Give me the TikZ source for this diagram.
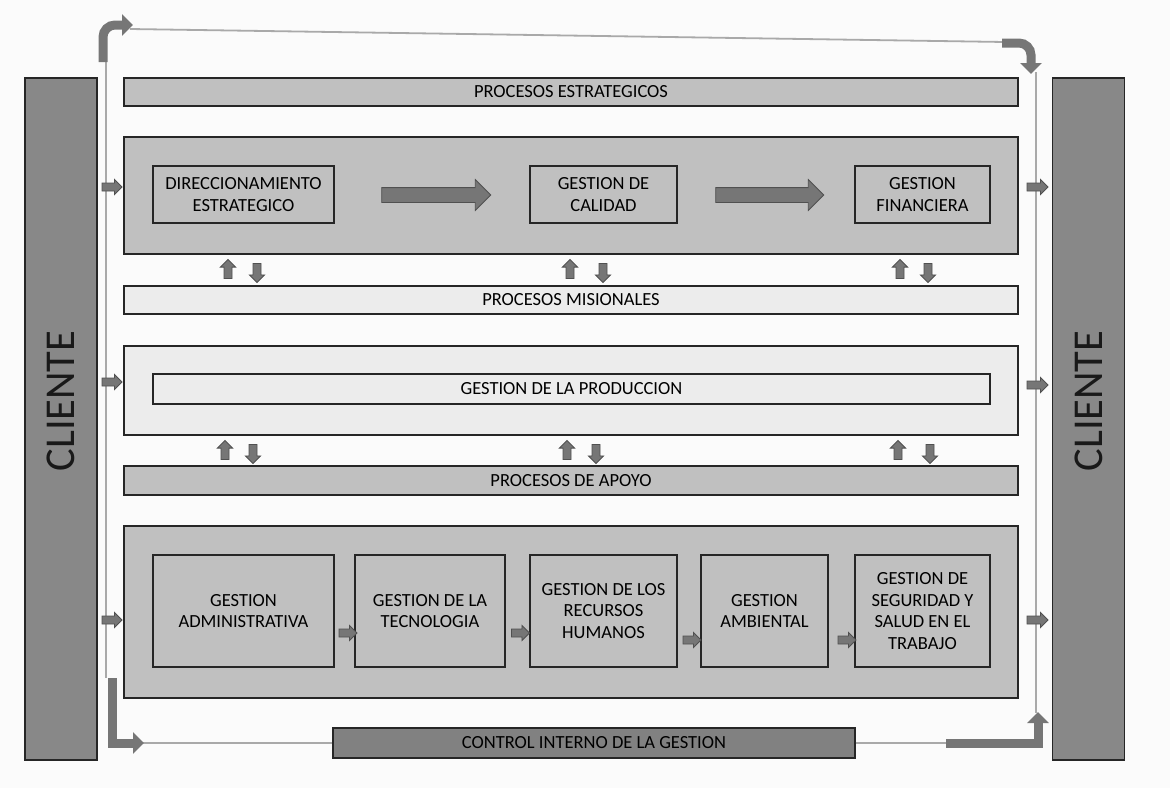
\documentclass[tikz,border=0pt]{standalone}
\usepackage{fontspec}
\setmainfont{Carlito}
\usetikzlibrary{shapes.arrows,arrows.meta}
\definecolor{bgc}{HTML}{FBFBFB}
\definecolor{gmid}{HTML}{C0C0C0}
\definecolor{glight}{HTML}{ECECEC}
\definecolor{gdark}{HTML}{888888}
\definecolor{garrow}{HTML}{767676}
\definecolor{garrowb}{HTML}{505050}
\definecolor{gline}{HTML}{A9A9A9}
\newcommand\lblfont{\fontsize{18.5}{21.5}\selectfont}
\newcommand\clfont{\fontsize{42.5}{44}\selectfont}
\begin{document}
\begin{tikzpicture}[x=1pt,y=-1pt,
  boxbase/.style={draw=black!85, line width=1.4pt, inner sep=0pt, align=center, font=\lblfont, text=black},
  midbox/.style={boxbase, fill=gmid},
  lightbox/.style={boxbase, fill=glight},
  clientbox/.style={boxbase, fill=gdark, minimum width=72, minimum height=682},
  clienttext/.style={rotate=90, font=\clfont, text=black!90, inner sep=0pt},
  ctrlbox/.style={boxbase, fill=gdark!95!black},
  arrowbase/.style={single arrow, draw=garrowb, fill=garrow, line width=0.8pt, inner xsep=0pt, font=\tiny},
  bigarrow/.style={arrowbase, inner ysep=7pt, single arrow head extend=8pt},
  smallarrow/.style={arrowbase, minimum height=19, inner ysep=3.6pt, single arrow head extend=3.6pt},
  uparrow/.style={smallarrow, rotate=90},
  downarrow/.style={smallarrow, rotate=-90},
  thinline/.style={draw=gline, line width=1.8pt},
  thickarrow/.style={draw=garrow, line width=9pt, -{Triangle[width=21pt,length=11pt]}}
]
\useasboundingbox (0,0) rectangle (1170,788);
\fill[bgc] (0,0) rectangle (1170,788);

% clients
\node[clientbox] (clL) at (61,419) {};
\node[clienttext] (clLt) at (61,401) {CLIENTE};
\node[clientbox] (clR) at (1088.5,419) {};
\node[clienttext] (clRt) at (1088.5,401) {CLIENTE};

% thin loop lines
\coordinate (tlA) at (106,55);
\coordinate (tlB) at (106,678);
\coordinate (ttA) at (130,29);
\coordinate (ttB) at (1005,42);
\coordinate (trA) at (1036,72);
\coordinate (trB) at (1036,713);
\coordinate (blA) at (142,743);
\coordinate (brA) at (947,743);
\draw[thinline] (tlA) -- (tlB);
\draw[thinline] (ttA) -- (ttB);
\draw[thinline] (trA) -- (trB);

% bars
\node[midbox, minimum width=894, minimum height=28] (pest) at (571,92) {PROCESOS ESTRATEGICOS};
\node[lightbox, minimum width=894, minimum height=28] (pmis) at (571,300) {PROCESOS MISIONALES};
\node[midbox, minimum width=894, minimum height=29] (papo) at (571,480.5) {PROCESOS DE APOYO};

% strategic box
\node[midbox, minimum width=894, minimum height=117] (b1) at (571,195.5) {};
\node[midbox, minimum width=181, minimum height=57] (dir) at (243.5,194.5) {DIRECCIONAMIENTO\\ESTRATEGICO};
\node[midbox, minimum width=147, minimum height=57] (cal) at (603.5,194.5) {GESTION DE\\CALIDAD};
\node[midbox, minimum width=135, minimum height=57] (fin) at (922.5,194.5) {GESTION\\FINANCIERA};
\node[bigarrow, minimum height=109] (ba1) at (432.5,195) {};
\node[bigarrow, minimum height=108] (ba2) at (766,195) {};

% missional box
\node[lightbox, minimum width=894, minimum height=89] (b2) at (571,390.5) {};
\node[lightbox, minimum width=837, minimum height=30] (prod) at (571.5,389) {GESTION DE LA PRODUCCION};

% support box
\node[midbox, minimum width=894, minimum height=172] (b3) at (571,612) {};
\node[midbox, minimum width=181, minimum height=112] (adm) at (243.5,611) {GESTION\\ADMINISTRATIVA};
\node[midbox, minimum width=150, minimum height=112] (tec) at (430,611) {GESTION DE LA\\TECNOLOGIA};
\node[midbox, minimum width=147, minimum height=112] (rrhh) at (603.5,611) {GESTION DE LOS\\RECURSOS\\HUMANOS};
\node[midbox, minimum width=127, minimum height=112] (amb) at (764.5,611) {GESTION\\AMBIENTAL};
\node[midbox, minimum width=135, minimum height=112] (seg) at (922.5,611) {GESTION DE\\SEGURIDAD Y\\SALUD EN EL\\TRABAJO};
\node[smallarrow, minimum height=18] (sa1) at (346,633) {};
\node[smallarrow, minimum height=18] (sa2) at (518.5,633) {};
\node[smallarrow, minimum height=18] (sa3) at (690,640) {};
\node[smallarrow, minimum height=18] (sa4) at (845,640) {};

% up/down arrows
\node[uparrow] (u1) at (228,271) {};
\node[downarrow] (d1) at (257,271) {};
\node[uparrow] (u2) at (570,271) {};
\node[downarrow] (d2) at (603,271) {};
\node[uparrow] (u3) at (900,271) {};
\node[downarrow] (d3) at (928,271) {};
\node[uparrow] (u4) at (225,452) {};
\node[downarrow] (d4) at (253,452) {};
\node[uparrow] (u5) at (567,452) {};
\node[downarrow] (d5) at (596,452) {};
\node[uparrow] (u6) at (898,452) {};
\node[downarrow] (d6) at (930,452) {};

% side arrows
\node[smallarrow, minimum height=20] (l1) at (110,187) {};
\node[smallarrow, minimum height=20] (l2) at (110,382) {};
\node[smallarrow, minimum height=20] (l3) at (110,620) {};
\node[smallarrow, minimum height=21] (r1) at (1035.5,187) {};
\node[smallarrow, minimum height=21] (r2) at (1035.5,385) {};
\node[smallarrow, minimum height=21] (r3) at (1035.5,620) {};

% control
\node[ctrlbox, minimum width=522, minimum height=30] (ctrl) at (594,743) {CONTROL INTERNO DE LA GESTION};
\draw[thinline] (blA) -- (ctrl.west);
\draw[thinline] (ctrl.east) -- (brA);

% thick bent arrows
\coordinate (tkA) at (103,62);
\coordinate (tkB) at (133,25);
\draw[thickarrow, rounded corners=12pt] (tkA) |- (tkB);
\coordinate (tkC) at (1002,43);
\coordinate (tkD) at (1031,74);
\draw[thickarrow, rounded corners=12pt] (tkC) -| (tkD);
\coordinate (tkE) at (112,678);
\coordinate (tkF) at (144,743);
\draw[thickarrow, line join=miter] (tkE) |- (tkF);
\coordinate (tkG) at (946,743);
\coordinate (tkH) at (1038,712);
\draw[thickarrow, line join=miter] (tkG) -| (tkH);
\end{tikzpicture}
\end{document}
